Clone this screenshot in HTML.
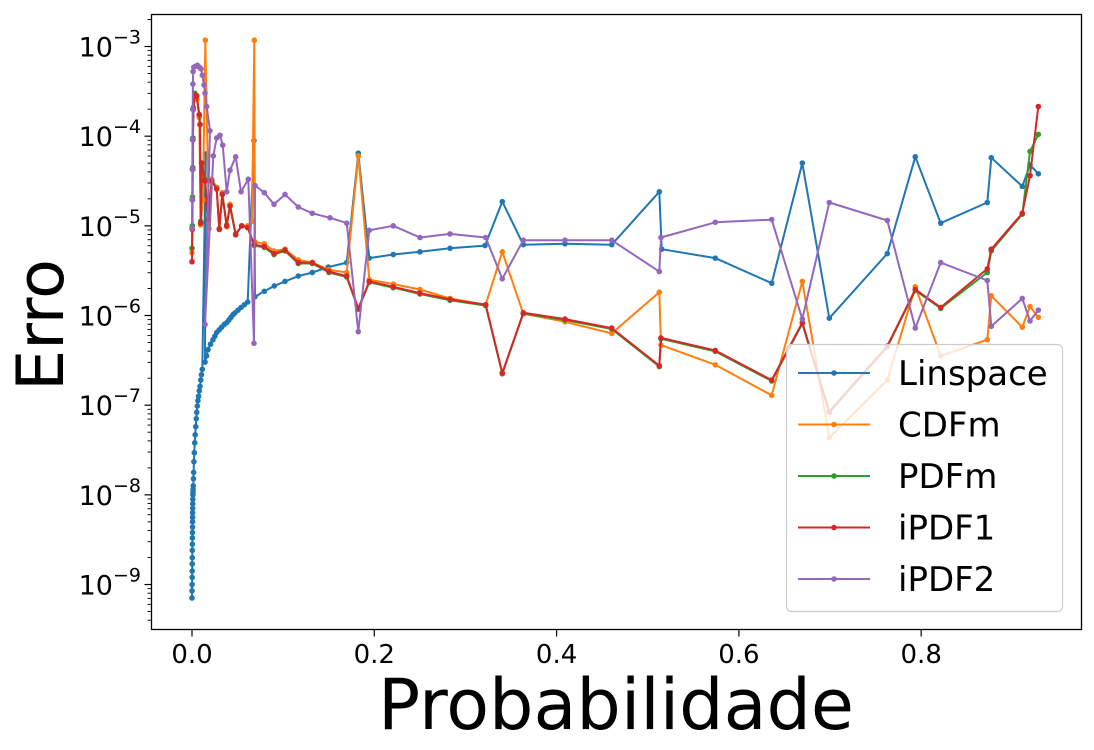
<!DOCTYPE html>
<html><head><meta charset="utf-8"><style>
html,body{margin:0;padding:0;background:#fff;}
svg{display:block;font-family:"DejaVu Sans","Liberation Sans",sans-serif;}
</style></head><body>
<svg id="chart" width="1094" height="750" viewBox="0 0 1094 750">
<rect x="0" y="0" width="1094" height="750" fill="#fff"/>
<g id="grid-ticks"></g>
<g id="series"></g>
<rect x="151.5" y="14.5" width="930" height="615" fill="none" stroke="#000" stroke-width="1.3"/>
<g id="legend"></g>
<text x="616" y="729" font-size="70" text-anchor="middle">Probabilidade</text>
<text x="63" y="325" font-size="65" text-anchor="middle" transform="rotate(-90 63 325)">Erro</text>
</svg>
<script>
// ---- data (x = probability, y = log10 of error) ----
const seriesNames = ["Linspace","CDFm","PDFm","iPDF1","iPDF2"];
const seriesColors = ["#1f77b4","#ff7f0e","#2ca02c","#d62728","#9467bd"];
const xTicks = [0.0,0.2,0.4,0.6,0.8];
const xTickLabels = ["0.0","0.2","0.4","0.6","0.8"];
const yTickExps = [-3,-4,-5,-6,-7,-8,-9];

const pLinspace = [0,0.00005,0.0001,0.00015,0.0002,0.00025,0.0003,0.00035,0.0004,0.00045,0.0005,0.00055,0.0006,0.00065,0.0007,0.00075,0.0008,0.0009,0.0010,0.0011,0.0012,0.0014,0.0016,0.0018,0.0021,0.0025,0.0030,0.0035,0.0041,0.0047,0.0052,0.0058,0.0065,0.0072,0.0080,0.0088,0.0096,0.0104,0.0113,0.0150,0.0143,0.0160,0.0176,0.0203,0.0230,0.0251,0.0271,0.0298,0.0326,0.0353,0.0381,0.0405,0.0428,0.0450,0.0472,0.0505,0.0538,0.0575,0.0611,0.0680,0.0691,0.0793,0.0903,0.1020,0.1166,0.1320,0.1495,0.1697,0.1824,0.1945,0.2208,0.2501,0.2831,0.3214,0.3404,0.3635,0.4092,0.4605,0.5127,0.5153,0.5741,0.6360,0.6696,0.6992,0.7628,0.7935,0.8214,0.8725,0.8769,0.9109,0.9194,0.9285];
const logErrLinspace = [-9.15,-9.07,-9.0,-8.92,-8.85,-8.77,-8.7,-8.62,-8.55,-8.48,-8.42,-8.36,-8.3,-8.25,-8.2,-8.15,-8.1,-8.05,-8.0,-7.97,-7.94,-7.90,-7.82,-7.75,-7.63,-7.53,-7.42,-7.33,-7.24,-7.15,-7.08,-7.01,-6.95,-6.90,-6.84,-6.79,-6.72,-6.66,-6.60,-4.20,-6.52,-6.45,-6.38,-6.32,-6.27,-6.23,-6.19,-6.16,-6.13,-6.10,-6.08,-6.05,-6.02,-5.99,-5.97,-5.94,-5.91,-5.88,-5.85,-4.05,-5.79,-5.73,-5.67,-5.62,-5.56,-5.52,-5.46,-5.41,-4.19,-5.36,-5.32,-5.29,-5.25,-5.22,-4.73,-5.21,-5.20,-5.21,-4.62,-5.26,-5.36,-5.64,-4.30,-6.03,-5.31,-4.23,-4.97,-4.74,-4.24,-4.56,-4.32,-4.42];

const pCDFm = [0,0.0003,0.0005,0.0008,0.0010,0.0015,0.0030,0.0055,0.0080,0.0095,0.0121,0.0146,0.0187,0.0216,0.0271,0.0300,0.0332,0.0381,0.0417,0.0479,0.0545,0.0611,0.0658,0.0684,0.0691,0.0793,0.0900,0.1020,0.1166,0.1320,0.1503,0.1697,0.1824,0.1945,0.2208,0.2501,0.2831,0.3222,0.3404,0.3635,0.4092,0.4605,0.5127,0.5145,0.5741,0.6360,0.6696,0.6992,0.7628,0.7935,0.8214,0.8725,0.8769,0.9109,0.9194,0.9285];
const logErrCDFm = [-5.30,-5.04,-4.71,-4.37,-4.04,-3.70,-3.54,-3.59,-3.79,-4.99,-4.71,-2.93,-5.03,-4.48,-4.57,-5.04,-4.63,-5.01,-4.76,-5.10,-5.00,-5.00,-4.95,-2.93,-5.18,-5.20,-5.28,-5.26,-5.38,-5.41,-5.49,-5.52,-4.22,-5.60,-5.65,-5.71,-5.81,-5.88,-5.29,-5.98,-6.07,-6.20,-5.74,-6.33,-6.55,-6.89,-5.62,-7.36,-6.72,-5.68,-6.45,-6.27,-5.78,-6.13,-5.90,-6.02];

const pPDFm = [0,0.0003,0.0005,0.0008,0.0010,0.0015,0.0030,0.0052,0.0080,0.0088,0.0095,0.0106,0.0143,0.0179,0.0216,0.0271,0.0300,0.0332,0.0381,0.0417,0.0479,0.0545,0.0611,0.0684,0.0793,0.0900,0.1020,0.1166,0.1320,0.1503,0.1697,0.1824,0.1945,0.2208,0.2501,0.2831,0.3222,0.3404,0.3635,0.4092,0.4605,0.5127,0.5145,0.5741,0.6360,0.6696,0.6992,0.7628,0.7935,0.8214,0.8725,0.8769,0.9109,0.9194,0.9285];
const logErrPDFm = [-5.25,-5.00,-4.68,-4.35,-4.02,-3.68,-3.52,-3.55,-3.76,-3.87,-4.95,-4.30,-4.48,-4.92,-4.50,-4.59,-5.03,-4.65,-4.99,-4.78,-5.09,-5.00,-5.02,-5.22,-5.24,-5.32,-5.28,-5.42,-5.42,-5.52,-5.57,-5.93,-5.63,-5.69,-5.76,-5.83,-5.89,-6.65,-5.98,-6.05,-6.15,-6.57,-6.26,-6.40,-6.73,-6.09,-7.08,-6.35,-5.72,-5.92,-5.52,-5.28,-4.87,-4.17,-3.98];

const pIPDF1 = [0,0.0003,0.0005,0.0008,0.0010,0.0015,0.0030,0.0052,0.0080,0.0088,0.0095,0.0106,0.0143,0.0179,0.0216,0.0271,0.0300,0.0332,0.0381,0.0417,0.0479,0.0545,0.0611,0.0684,0.0793,0.0900,0.1020,0.1166,0.1320,0.1503,0.1697,0.1824,0.1945,0.2208,0.2501,0.2831,0.3222,0.3404,0.3635,0.4092,0.4605,0.5127,0.5145,0.5741,0.6360,0.6696,0.6992,0.7628,0.7935,0.8214,0.8725,0.8769,0.9109,0.9194,0.9285];
const logErrIPDF1 = [-5.40,-5.04,-4.71,-4.37,-4.04,-3.70,-3.54,-3.55,-3.76,-3.87,-4.97,-4.30,-4.50,-4.93,-4.50,-4.59,-5.04,-4.65,-5.00,-4.78,-5.10,-5.00,-5.02,-5.21,-5.23,-5.31,-5.27,-5.41,-5.41,-5.51,-5.56,-5.92,-5.62,-5.68,-5.75,-5.82,-5.88,-6.64,-5.97,-6.04,-6.14,-6.56,-6.25,-6.39,-6.72,-6.08,-7.07,-6.34,-5.71,-5.91,-5.48,-5.26,-4.86,-4.44,-3.67];

const pIPDF2 = [0,0.0002,0.0003,0.0005,0.0008,0.0010,0.0012,0.0020,0.0040,0.0060,0.0080,0.0100,0.0113,0.0132,0.0143,0.0161,0.0197,0.0143,0.0234,0.0271,0.0307,0.0337,0.0381,0.0417,0.0479,0.0538,0.0618,0.0680,0.0691,0.0793,0.0900,0.1020,0.1166,0.1320,0.1514,0.1697,0.1824,0.1945,0.2208,0.2501,0.2831,0.3222,0.3404,0.3635,0.4092,0.4605,0.5127,0.5145,0.5741,0.6360,0.6696,0.6992,0.7628,0.7935,0.8214,0.8725,0.8769,0.9109,0.9194,0.9285];
const logErrIPDF2 = [-5.03,-4.71,-4.37,-4.04,-3.70,-3.42,-3.28,-3.23,-3.22,-3.21,-3.23,-3.25,-3.32,-3.43,-3.52,-3.67,-3.94,-6.10,-4.22,-4.02,-3.99,-4.10,-4.62,-4.38,-4.23,-4.62,-4.48,-6.31,-4.55,-4.63,-4.76,-4.65,-4.79,-4.86,-4.91,-4.97,-6.18,-5.05,-5.00,-5.13,-5.09,-5.13,-5.59,-5.16,-5.16,-5.16,-5.51,-5.13,-4.96,-4.93,-6.04,-4.74,-4.94,-6.14,-5.41,-5.61,-6.12,-5.81,-6.06,-5.94];

const seriesX = [pLinspace,pCDFm,pPDFm,pIPDF1,pIPDF2];
const seriesY = [logErrLinspace,logErrCDFm,logErrPDFm,logErrIPDF1,logErrIPDF2];

// ---- axes ----
const NS = "http://www.w3.org/2000/svg";
const X0 = 192, XS = 911.5;
const Y0 = 46.5, YS = 89.67;
function xScale(p){ return X0 + p*XS; }
function yScale(logE){ return Y0 + (-3 - logE)*YS; }
function mk(tag, attrs, parent){
  const el = document.createElementNS(NS, tag);
  for (const k in attrs) el.setAttribute(k, attrs[k]);
  parent.appendChild(el);
  return el;
}
const tg = document.getElementById('grid-ticks');
xTicks.forEach((t,i)=>{
  const x = xScale(t);
  const tk = mk('line',{x1:x,x2:x,y1:629.5,y2:636.5,stroke:'#000','stroke-width':1.2},tg);
  
  
  const lb = mk('text',{x:x,y:663,'font-size':26,'text-anchor':'middle'},tg);
  lb.textContent = xTickLabels[i];
  
  
});
function minorTick(ym){
  if (ym < 15 || ym > 629) return;
  const mt = mk('line',{x1:147.5,x2:151.5,y1:ym,y2:ym,stroke:'#000','stroke-width':0.9},tg);
  
  
}
yTickExps.forEach(e=>{
  const y = yScale(e);
  const tk = mk('line',{x1:144.5,x2:151.5,y1:y,y2:y,stroke:'#000','stroke-width':1.2},tg);
  
  
  const lb = mk('text',{x:141,y:y+10,'font-size':27,'text-anchor':'end'},tg);
  
  
  const t1 = mk('tspan',{},lb); t1.textContent='10';
  const t2 = mk('tspan',{dy:-13,'font-size':19},lb); t2.textContent='\u2212'+(-e);
  for (let m=2;m<=9;m++) minorTick(yScale(e + Math.log10(m)));
});
for (let m=2;m<=9;m++) minorTick(yScale(-3 + Math.log10(m)));
for (let m=2;m<=9;m++) minorTick(yScale(-10 + Math.log10(m)));
// ---- series ----
const sg = document.getElementById('series');
seriesNames.forEach((name,si)=>{
  const g = mk('g',{},sg);
  
  
  const xs = seriesX[si], ys = seriesY[si];
  const pts = xs.map((p,i)=>xScale(p).toFixed(1)+','+yScale(ys[i]).toFixed(1)).join(' ');
  const pl = mk('polyline',{points:pts,fill:'none',stroke:seriesColors[si],'stroke-width':2,'stroke-linejoin':'round'},g);
  
  
  xs.forEach((p,i)=>{
    const c = mk('circle',{cx:xScale(p),cy:yScale(ys[i]),r:2.8,fill:seriesColors[si]},g);
    
    
  });
});
// ---- legend ----
const lg = document.getElementById('legend');
const box = mk('rect',{x:786.5,y:344.5,width:276,height:267,rx:5,fill:'#fff','fill-opacity':0.8,stroke:'#ccc','stroke-width':1.2},lg);


seriesNames.forEach((name,si)=>{
  const y = 373 + si*51.5;
  const e = mk('g',{},lg);
  
  
  mk('line',{x1:798,x2:870,y1:y,y2:y,stroke:seriesColors[si],'stroke-width':2},e);
  mk('circle',{cx:834,cy:y,r:2.8,fill:seriesColors[si]},e);
  const t = mk('text',{x:898,y:y+12,'font-size':34},e);
  t.textContent = name;
});
</script>
</body></html>
